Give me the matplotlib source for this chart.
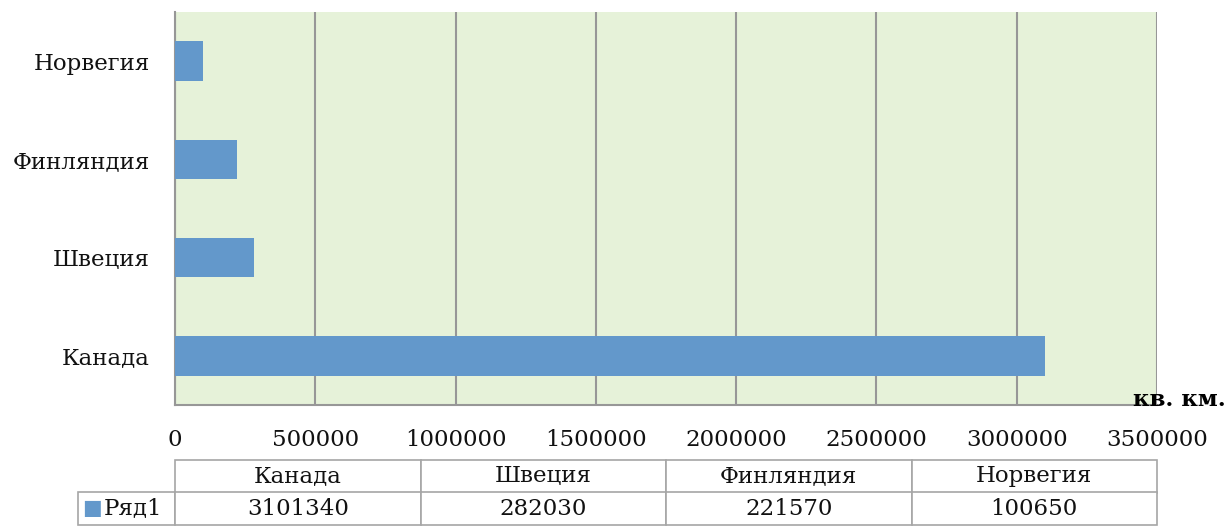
import matplotlib.pyplot as plt
from matplotlib.ticker import MultipleLocator

countries = ['Канада', 'Швеция', 'Финляндия', 'Норвегия']
area = [3101340, 282030, 221570, 100650]
series_name = 'Ряд1'
unit = 'кв. км.'

bar_color = '#6398cb'
bg_color = '#e6f2d9'
grid_color = '#979797'
edge_color = '#a6a6a6'

plt.rcParams['font.family'] = ['DejaVu Serif']
plt.rcParams['font.size'] = 16.5

fig = plt.figure(figsize=(12.29, 5.28), dpi=100)
ax = fig.add_axes([175 / 1229, 1 - 405 / 528, 982 / 1229, 393 / 528])
ax.set_facecolor(bg_color)

ax.barh(range(len(countries)), area, height=0.4, color=bar_color, zorder=3)
ax.set_yticks(range(len(countries)))
ax.set_yticklabels(countries)
ax.set_ylim(-0.5, len(countries) - 0.5)
ax.set_xlim(0, 3500000)
ax.xaxis.set_major_locator(MultipleLocator(500000))
ax.xaxis.set_major_formatter(lambda v, p: '%d' % v)
ax.grid(axis='x', color=grid_color, linewidth=1.5, zorder=1)
ax.tick_params(length=0, pad=18, colors='#111111')
ax.tick_params(axis='x', pad=17)

for s in ['top', 'right']:
    ax.spines[s].set_visible(False)
for s in ['left', 'bottom']:
    ax.spines[s].set_color(grid_color)
    ax.spines[s].set_linewidth(1.5)

# data table under the axis
label_w = 97
col_w = 982 / 4
cells = [[''] + countries, [series_name] + ['%d' % v for v in area]]
tb = ax.table(cellText=cells, colWidths=[label_w] + [col_w] * 4,
              cellLoc='center', bbox=[-label_w / 982, -(525 - 405) / 393, (982 + label_w) / 982, 65 / 393])
tb.auto_set_font_size(False)
for (r, c), cell in tb.get_celld().items():
    cell.set_edgecolor(edge_color)
    cell.set_linewidth(1.2)
    cell.get_text().set_fontsize(16.5)
    cell.get_text().set_color('#111111')
    if r == 0 and c == 0:
        cell.visible_edges = ''
    if r == 1 and c == 0:
        cell.get_text().set_text('')

# legend key + name in the first cell of the value row
ax.text(-93 / 982, -(508 - 405) / 393, '■', color=bar_color, fontsize=15,
        family='DejaVu Sans', ha='left', va='center', transform=ax.transAxes)
ax.text(-71 / 982, -(508 - 405) / 393, series_name, ha='left', va='center',
        color='#111111', transform=ax.transAxes)

fig.text(1226 / 1229, 1 - 400 / 528, unit, ha='right', va='center', fontweight='bold')

fig.savefig('out.png', dpi=100)
